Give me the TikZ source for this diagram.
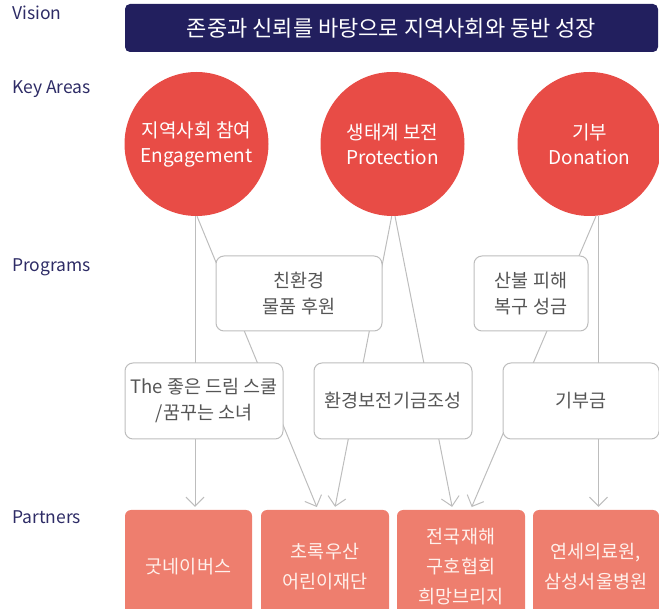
\documentclass[tikz,border=0pt]{standalone}
\usepackage{fontspec}
\setmainfont{Noto Sans CJK KR}
\usetikzlibrary{arrows.meta,calc}
\definecolor{navy}{HTML}{221F5E}
\definecolor{lbl}{HTML}{2E2C66}
\definecolor{circ}{HTML}{E84C46}
\definecolor{part}{HTML}{EE7E6E}
\definecolor{ln}{HTML}{BDBDBD}
\definecolor{txt}{HTML}{555555}
\definecolor{ptxt}{HTML}{FFF1EC}
\pgfdeclarelayer{bg}
\pgfsetlayers{bg,main}
\tikzset{
  rowlabel/.style={anchor=base west, text=lbl, font=\fontsize{17.5}{20}\selectfont, inner sep=0},
  visionbar/.style={fill=navy, rounded corners=5pt, minimum width=533pt, minimum height=48pt, text=white, font=\fontsize{22}{24}\selectfont, inner sep=0},
  area/.style={circle, fill=circ, minimum size=144pt, inner sep=0, text=white, align=center, font=\fontsize{19}{25}\selectfont},
  prog/.style={draw=ln, line width=1pt, fill=white, rounded corners=8pt, text=txt, align=center, inner sep=0, font=\fontsize{18.5}{26}\selectfont},
  partner/.style={fill=part, rounded corners=6pt, minimum height=114pt, text=ptxt, align=center, inner sep=0, font=\fontsize{18.5}{30}\selectfont},
  conn/.style={draw=ln, line width=1pt, -{Straight Barb[length=9pt,width=18pt]}, shorten >=3pt}
}
\begin{document}
\begin{tikzpicture}[x=1pt,y=-1pt]
\useasboundingbox (0,0) rectangle (659,609);
\clip (0,0) rectangle (659,609);
% row labels
\node[rowlabel] (lv) at (12,20) {Vision};
\node[rowlabel] (lk) at (12,94) {Key Areas};
\node[rowlabel] (lp) at (12,271.5) {Programs};
\node[rowlabel] (lq) at (12,523) {Partners};
% vision
\node[visionbar] (vis) at (391.5,28) {존중과 신뢰를 바탕으로 지역사회와 동반 성장};
% key areas
\node[area] (c1) at (196.5,144) {지역사회 참여\\Engagement};
\node[area] (c2) at (392.5,144) {생태계 보전\\Protection};
\node[area] (c3) at (589.5,144) {기부\\Donation};
% programs
\node[prog, minimum width=166pt, minimum height=75pt] (b1) at (299,293.5) {친환경\\물품 후원};
\node[prog, minimum width=158pt, minimum height=76pt] (b2) at (204,401) {The 좋은 드림 스쿨\\/꿈꾸는 소녀};
\node[prog, minimum width=158pt, minimum height=76pt] (b3) at (393,401) {환경보전기금조성};
\node[prog, minimum width=114pt, minimum height=75pt] (b4) at (531,293.5) {산불 피해\\복구 성금};
\node[prog, minimum width=156pt, minimum height=76pt] (b5) at (581,401) {기부금};
% partners
\node[partner, minimum width=127pt] (p1) at (188.5,567) {굿네이버스};
\node[partner, minimum width=128pt] (p2) at (325,567) {초록우산\\어린이재단};
\node[partner, minimum width=128pt] (p3) at (461,567) {전국재해\\구호협회\\희망브리지};
\node[partner, minimum width=126pt] (p4) at (596,567) {연세의료원,\\삼성서울병원};
% connectors
\begin{pgfonlayer}{bg}
\draw[conn] ([xshift=-1.5pt]c1.south) -- ([xshift=6.5pt]p1.north);
\draw[conn] ([xshift=0.5pt]c1.south) -- ([xshift=-7pt]p2.north);
\draw[conn] ([xshift=-0.8pt]c2.south) -- ([xshift=9.5pt]p2.north);
\draw[conn] ([xshift=2.5pt]c2.south) -- ([xshift=-8.3pt]p3.north);
\draw[conn] ([xshift=6.5pt]c3.south) -- ([xshift=9.5pt]p3.north);
\draw[conn] ([xshift=9pt]c3.south) -- ([xshift=2.5pt]p4.north);
\end{pgfonlayer}
\end{tikzpicture}
\end{document}
